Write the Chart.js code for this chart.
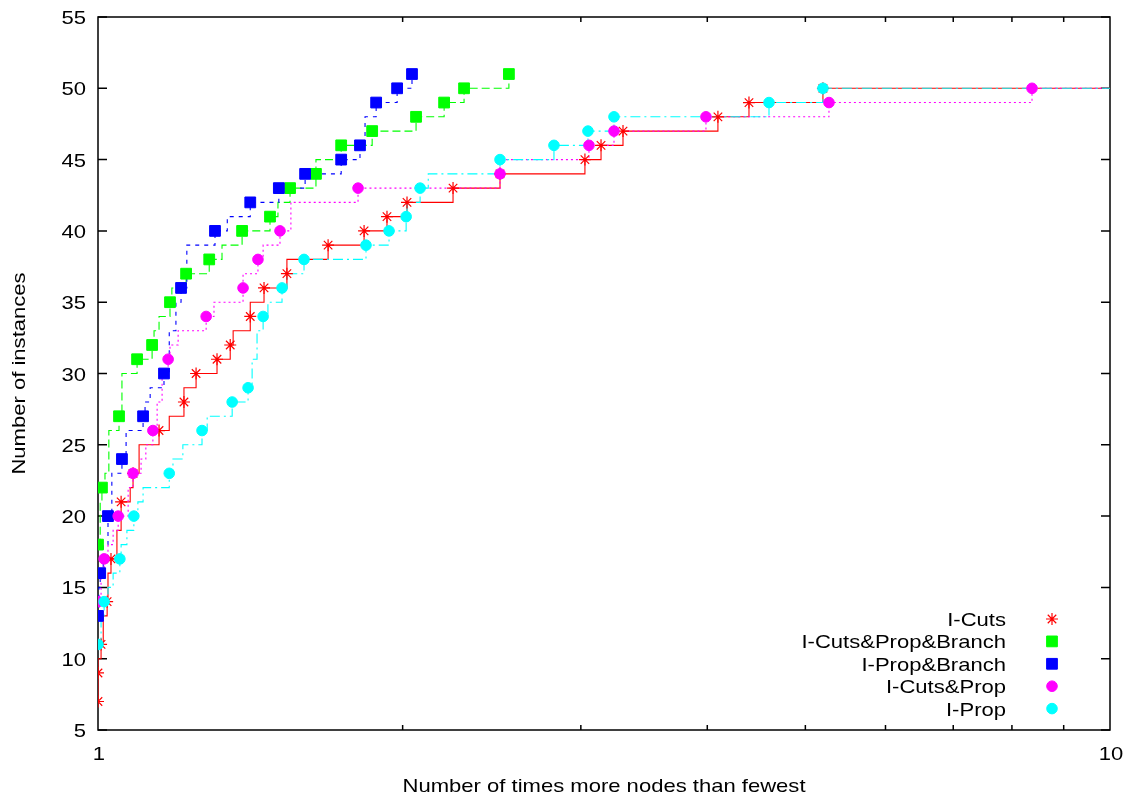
<!DOCTYPE html>
<html lang="en">

<head>
    <meta charset="UTF-8">
    <title>Performance profile</title>

    <!-- Chart.js -->
    <script src="https://cdn.jsdelivr.net/npm/chart.js"></script>

    <style>
        html, body {
            margin: 0;
            padding: 0;
            background: #ffffff;
        }

        #chart {
            display: block;
        }
    </style>
</head>

<body>
    <canvas id="chart" width="1128" height="795"></canvas>

    <script type="text/javascript">
        // step points (x = ratio, y = number of instances)
        const cutsX = [1.000, 1.000, 1.000, 1.007, 1.012, 1.021, 1.023, 1.030, 1.044, 1.054, 1.076, 1.083, 1.098, 1.149, 1.176, 1.216, 1.216, 1.250, 1.311, 1.351, 1.360, 1.414, 1.414, 1.459, 1.537, 1.537, 1.688, 1.832, 1.930, 2.020, 2.243, 2.496, 3.028, 3.141, 3.302, 4.098, 4.398, 5.204, 10];
        const cutsY = [7, 9, 10, 11, 13, 14, 16, 17, 19, 21, 22, 23, 25, 26, 27, 28, 29, 30, 31, 32, 33, 34, 35, 36, 37, 38, 39, 40, 41, 42, 43, 44, 45, 46, 47, 48, 49, 50, 50];
        const cutsMarked = [7, 9, 11, 14, 17, 21, 23, 26, 28, 30, 31, 32, 34, 36, 37, 39, 40, 41, 42, 43, 44, 45, 46, 47, 48, 49, 50];

        const cpbX = [1.000, 1.005, 1.009, 1.016, 1.025, 1.049, 1.056, 1.093, 1.131, 1.136, 1.149, 1.178, 1.183, 1.222, 1.288, 1.326, 1.388, 1.479, 1.506, 1.548, 1.642, 1.642, 1.739, 1.866, 2.062, 2.198, 2.300, 2.547];
        const cpbY = [18, 21, 22, 23, 26, 27, 30, 31, 32, 33, 34, 35, 36, 37, 38, 39, 40, 41, 42, 43, 44, 45, 46, 47, 48, 49, 50, 51];
        const cpbMarked = [18, 22, 27, 31, 32, 35, 37, 38, 40, 41, 43, 44, 46, 47, 48, 49, 50, 51];

        const pbX = [1.000, 1.002, 1.005, 1.012, 1.023, 1.032, 1.056, 1.066, 1.108, 1.113, 1.126, 1.162, 1.176, 1.194, 1.208, 1.224, 1.305, 1.342, 1.414, 1.509, 1.602, 1.739, 1.815, 1.836, 1.883, 1.975, 2.043];
        const pbY = [13, 15, 16, 18, 20, 23, 24, 26, 27, 28, 29, 30, 33, 35, 36, 39, 40, 41, 42, 43, 44, 45, 46, 48, 49, 50, 51];
        const pbMarked = [13, 16, 20, 24, 27, 30, 36, 40, 42, 43, 44, 45, 46, 49, 50, 51];

        const cpX = [1.000, 1.007, 1.014, 1.023, 1.035, 1.047, 1.071, 1.083, 1.103, 1.115, 1.133, 1.144, 1.157, 1.173, 1.178, 1.200, 1.279, 1.302, 1.391, 1.391, 1.439, 1.456, 1.513, 1.551, 1.807, 2.496, 2.496, 3.056, 3.235, 3.988, 5.276, 8.374, 10];
        const cpY = [14, 16, 17, 18, 19, 20, 22, 23, 24, 25, 26, 28, 30, 31, 32, 33, 34, 35, 36, 37, 38, 39, 40, 42, 43, 44, 45, 46, 47, 48, 49, 50, 50];
        const cpMarked = [14, 17, 20, 23, 26, 31, 34, 36, 38, 40, 43, 44, 46, 47, 48, 49, 50];

        const propX = [1.000, 1.007, 1.014, 1.023, 1.035, 1.051, 1.054, 1.068, 1.085, 1.095, 1.108, 1.176, 1.186, 1.213, 1.267, 1.282, 1.357, 1.407, 1.420, 1.436, 1.456, 1.472, 1.520, 1.537, 1.598, 1.840, 1.939, 2.016, 2.020, 2.081, 2.120, 2.496, 2.822, 3.049, 3.235, 4.603, 5.204, 10];
        const propY = [11, 13, 14, 15, 16, 17, 18, 19, 20, 21, 22, 23, 24, 25, 26, 27, 28, 29, 31, 33, 34, 35, 36, 37, 38, 39, 40, 41, 42, 43, 44, 45, 46, 47, 48, 49, 50, 50];
        const propMarked = [11, 14, 17, 20, 23, 26, 28, 29, 34, 36, 38, 39, 40, 41, 43, 45, 46, 47, 48, 49, 50];

        const seriesNames = ['I-Cuts', 'I-Cuts&Prop&Branch', 'I-Prop&Branch', 'I-Cuts&Prop', 'I-Prop'];
        const yTicks = [5, 10, 15, 20, 25, 30, 35, 40, 45, 50, 55];
        const xTicks = [1, 10];

        const FONT = '19px "Liberation Sans", Arial, sans-serif';
        const STRETCH = 1.16;

        const series = [
            { xs: cutsX, ys: cutsY, marked: cutsMarked, color: '#ff0000', dash: [], style: 'star', radius: 6 },
            { xs: cpbX, ys: cpbY, marked: cpbMarked, color: '#00ff00', dash: [8, 4], style: 'rect', radius: 7.6 },
            { xs: pbX, ys: pbY, marked: pbMarked, color: '#0000ff', dash: [4, 5], style: 'rect', radius: 7.6 },
            { xs: cpX, ys: cpY, marked: cpMarked, color: '#ff00ff', dash: [2, 3], style: 'circle', radius: 5.3 },
            { xs: propX, ys: propY, marked: propMarked, color: '#00ffff', dash: [10, 4, 2, 4], style: 'circle', radius: 5.3 }
        ];

        function toPoints(xs, ys) {
            return xs.map((x, i) => ({ x: x, y: ys[i] }));
        }

        // first step that reaches each marked level gets a symbol
        function toMarks(xs, ys, marked) {
            return marked.map(level => {
                const i = ys.indexOf(level);
                return { x: xs[i], y: level };
            });
        }

        const datasets = [];
        series.forEach((s, i) => {
            datasets.push({
                label: seriesNames[i] + ' line',
                data: toPoints(s.xs, s.ys),
                borderColor: s.color,
                borderWidth: 1.1,
                borderDash: s.dash,
                stepped: 'before',
                pointRadius: 0,
                fill: false,
                order: 20 - i
            });
        });
        series.forEach((s, i) => {
            datasets.push({
                label: seriesNames[i],
                data: toMarks(s.xs, s.ys, s.marked),
                showLine: false,
                pointStyle: s.style,
                pointRadius: s.radius,
                pointBackgroundColor: s.color,
                pointBorderColor: s.color,
                pointBorderWidth: s.style === 'star' ? 1.2 : 1,
                order: 10 - i
            });
        });

        function stretchText(ctx, text, x, y, align) {
            ctx.save();
            ctx.translate(x, y);
            ctx.scale(STRETCH, 1);
            ctx.textAlign = align;
            ctx.textBaseline = 'alphabetic';
            ctx.fillText(text, 0, 0);
            ctx.restore();
        }

        function drawSymbol(ctx, s, x, y) {
            ctx.save();
            ctx.fillStyle = s.color;
            ctx.strokeStyle = s.color;
            ctx.lineWidth = 1;
            ctx.beginPath();
            if (s.style === 'rect') {
                const h = s.radius * Math.SQRT1_2;
                ctx.rect(x - h, y - h, 2 * h, 2 * h);
                ctx.fill();
                ctx.stroke();
            } else if (s.style === 'circle') {
                ctx.arc(x, y, s.radius, 0, Math.PI * 2);
                ctx.fill();
                ctx.stroke();
            } else {
                const r = s.radius;
                const d = r * Math.SQRT1_2;
                ctx.lineWidth = 1.2;
                ctx.moveTo(x - r, y); ctx.lineTo(x + r, y);
                ctx.moveTo(x, y - r); ctx.lineTo(x, y + r);
                ctx.moveTo(x - d, y - d); ctx.lineTo(x + d, y + d);
                ctx.moveTo(x - d, y + d); ctx.lineTo(x + d, y - d);
                ctx.stroke();
            }
            ctx.restore();
        }

        // gnuplot style frame and tics, under the data
        const framePlugin = {
            id: 'frame',
            beforeDatasetsDraw(chart) {
                const ctx = chart.ctx;
                const a = chart.chartArea;
                const xs = chart.scales.x;
                const ys = chart.scales.y;

                ctx.save();
                ctx.strokeStyle = '#000000';
                ctx.lineWidth = 1.5;
                ctx.beginPath();
                yTicks.forEach(v => {
                    const py = ys.getPixelForValue(v);
                    ctx.moveTo(a.left, py); ctx.lineTo(a.left + 9, py);
                    ctx.moveTo(a.right, py); ctx.lineTo(a.right - 9, py);
                });
                for (let v = 2; v <= 9; v++) {
                    const px = xs.getPixelForValue(v);
                    ctx.moveTo(px, a.bottom); ctx.lineTo(px, a.bottom - 5);
                    ctx.moveTo(px, a.top); ctx.lineTo(px, a.top + 5);
                }
                ctx.stroke();
                ctx.strokeRect(a.left, a.top, a.right - a.left, a.bottom - a.top);
                ctx.restore();
            },
            // labels and key
            afterDraw(chart) {
                const ctx = chart.ctx;
                const a = chart.chartArea;
                const xs = chart.scales.x;
                const ys = chart.scales.y;

                ctx.save();
                ctx.fillStyle = '#000000';
                ctx.font = FONT;
                yTicks.forEach(v => {
                    stretchText(ctx, String(v), a.left - 12, ys.getPixelForValue(v) + 7, 'right');
                });
                xTicks.forEach(v => {
                    stretchText(ctx, String(v), xs.getPixelForValue(v) + 1, a.bottom + 30, 'center');
                });

                stretchText(ctx, 'Number of times more nodes than fewest', (a.left + a.right) / 2, 792, 'center');

                ctx.save();
                ctx.translate(25, (a.top + a.bottom) / 2);
                ctx.rotate(-Math.PI / 2);
                ctx.scale(STRETCH, 1);
                ctx.textAlign = 'center';
                ctx.fillText('Number of instances', 0, 0);
                ctx.restore();

                series.forEach((s, i) => {
                    const cy = 619 + i * 22.4;
                    stretchText(ctx, seriesNames[i], 1006, cy + 7, 'right');
                    drawSymbol(ctx, s, 1052, cy);
                });
                ctx.restore();
            }
        };

        const ctx = document.getElementById('chart').getContext('2d');
        const myChart = new Chart(ctx, {
            type: 'line',
            data: { datasets: datasets },
            options: {
                responsive: false,
                animation: false,
                devicePixelRatio: 1,
                layout: {
                    padding: { left: 0, right: 18, top: 17, bottom: 0 }
                },
                plugins: {
                    legend: { display: false },
                    tooltip: { enabled: false }
                },
                scales: {
                    x: {
                        type: 'logarithmic',
                        min: 1,
                        max: 10,
                        grid: { display: false },
                        border: { display: false },
                        ticks: { display: false },
                        afterFit: s => { s.height = 65; }
                    },
                    y: {
                        type: 'linear',
                        min: 5,
                        max: 55,
                        grid: { display: false },
                        border: { display: false },
                        ticks: { display: false },
                        afterFit: s => { s.width = 98; }
                    }
                }
            },
            plugins: [framePlugin]
        });
    </script>
</body>

</html>
